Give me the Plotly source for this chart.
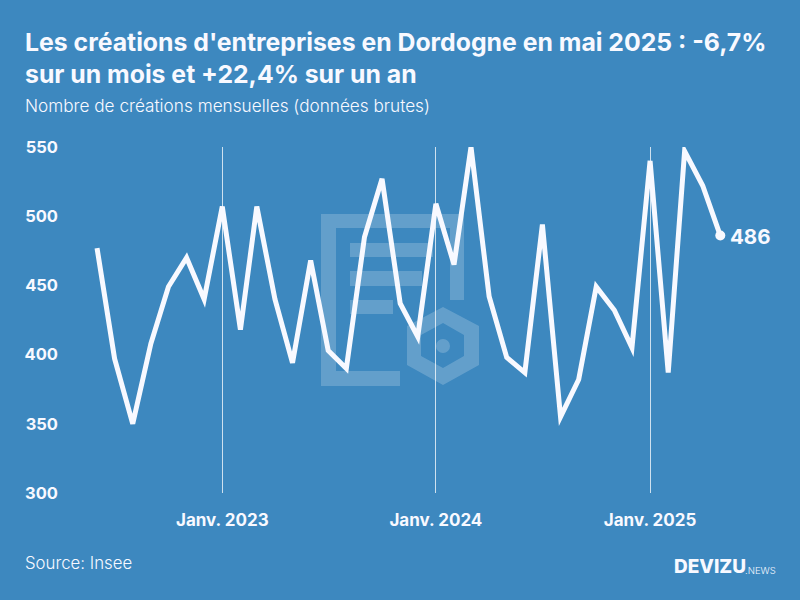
import plotly.graph_objects as go

# Data
MONTHS = ["2022-06-01", "2022-07-01", "2022-08-01", "2022-09-01", "2022-10-01", "2022-11-01",
          "2022-12-01", "2023-01-01", "2023-02-01", "2023-03-01", "2023-04-01", "2023-05-01",
          "2023-06-01", "2023-07-01", "2023-08-01", "2023-09-01", "2023-10-01", "2023-11-01",
          "2023-12-01", "2024-01-01", "2024-02-01", "2024-03-01", "2024-04-01", "2024-05-01",
          "2024-06-01", "2024-07-01", "2024-08-01", "2024-09-01", "2024-10-01", "2024-11-01",
          "2024-12-01", "2025-01-01", "2025-02-01", "2025-03-01", "2025-04-01", "2025-05-01"]
CREATIONS = [477, 397, 350, 408, 449, 470,
             440, 507, 418, 507, 440, 394,
             468, 403, 390, 485, 527, 437,
             413, 509, 465, 550, 442, 398,
             387, 494, 355, 382, 449, 432,
             405, 540, 387, 547, 522, 486]
X_TICKS = ["2023-01-01", "2024-01-01", "2025-01-01"]
X_LABELS = ["Janv. 2023", "Janv. 2024", "Janv. 2025"]
Y_TICKS = [300, 350, 400, 450, 500, 550]

BG = "#3d88bf"
WHITE = "#f8f9ff"
FONT = "Inter"
LOGO = "rgba(255,255,255,0.2)"

# Plot area in pixels
W, H = 800, 600
LEFT, RIGHT, TOP, BOTTOM = 59, 780, 147, 493


def px(x):
    return (x - LEFT) / (RIGHT - LEFT)


def py(y):
    return (BOTTOM - y) / (BOTTOM - TOP)


def logo_rect(x0, y0, x1, y1):
    return dict(type="rect", xref="paper", yref="paper", layer="below",
                x0=px(x0), x1=px(x1), y0=py(y0), y1=py(y1),
                fillcolor=LOGO, line_width=0)


def poly(points):
    return "M" + " L".join(f"{px(x):.4f},{py(y):.4f}" for x, y in points) + " Z"


def text(x, y, s, size, anchor="left", weight=400, family=FONT):
    return dict(x=px(x), y=py(y), xref="paper", yref="paper", text=s, showarrow=False,
                xanchor=anchor, yanchor="middle", align="left",
                font=dict(family=family, size=size, color=WHITE, weight=weight))


fig = go.Figure()
fig.add_trace(go.Scatter(x=MONTHS, y=CREATIONS, mode="lines",
                         line=dict(color=WHITE, width=5), hoverinfo="skip"))
fig.add_trace(go.Scatter(x=MONTHS[-1:], y=CREATIONS[-1:], mode="markers",
                         marker=dict(color=WHITE, size=10), hoverinfo="skip"))

# Watermark logo behind the chart
outer_hex = [(443, 307), (479, 326), (479, 365), (443, 385), (407, 365), (407, 326)]
inner_hex = [(443, 323), (464, 335), (464, 356), (443, 368), (421, 356), (421, 335)]
shapes = [
    logo_rect(321, 214, 336, 386),
    logo_rect(336, 371, 400, 386),
    logo_rect(336, 214, 464, 228),
    logo_rect(450, 228, 464, 300),
    logo_rect(350, 243, 433, 257),
    logo_rect(350, 271, 422, 286),
    logo_rect(350, 300, 393, 314),
    dict(type="path", xref="paper", yref="paper", layer="below", fillcolor=LOGO, line_width=0,
         path=poly(outer_hex) + " " + poly(inner_hex[::-1])),
    dict(type="circle", xref="paper", yref="paper", layer="below", fillcolor=LOGO, line_width=0,
         x0=px(436), x1=px(450), y0=py(353), y1=py(339)),
]

fig.update_layout(
    width=W, height=H, showlegend=False,
    paper_bgcolor=BG, plot_bgcolor=BG,
    margin=dict(l=LEFT, r=W - RIGHT, t=TOP, b=H - BOTTOM, autoexpand=False),
    title=dict(text="Les créations d'entreprises en Dordogne en mai 2025 : -6,7%<br>sur un mois et +22,4% sur un an",
               x=25 / W, xanchor="left", y=1 - 51 / H, yanchor="middle",
               font=dict(family=FONT, size=24.8, color=WHITE, weight=700)),
    xaxis=dict(type="date", range=["2022-03-28", "2025-08-11"],
               tickmode="array", tickvals=X_TICKS, ticktext=X_LABELS,
               showgrid=True, gridcolor="rgba(255,255,255,0.75)", gridwidth=1,
               zeroline=False, showline=False, ticks="", ticklabelstandoff=15,
               tickfont=dict(family=FONT, size=17, color=WHITE, weight=700)),
    yaxis=dict(range=[300, 550], tickmode="array", tickvals=Y_TICKS,
               showgrid=False, zeroline=False, showline=False, ticks="",
               tickfont=dict(family=FONT, size=16.5, color=WHITE, weight=700)),
    shapes=shapes,
    annotations=[
        text(23, 105, "Nombre de créations mensuelles (données brutes)", 17.2, weight=300),
        text(23, 563, "Source: Insee", 16.8, weight=300),
        text(672, 566, "DEVIZU", 19, weight=800),
        text(743, 570, ".NEWS", 9.5, weight=300),
        dict(x=MONTHS[-1], y=CREATIONS[-1], text=str(CREATIONS[-1]), showarrow=False,
             xanchor="left", yanchor="middle", xshift=8, yshift=-1,
             font=dict(family=FONT, size=20.5, color=WHITE, weight=700)),
    ],
)

# no body margin, and sharp line corners like the original
post = """document.body.style.margin='0';
document.querySelectorAll('.js-line').forEach(function(p) {
    p.style.strokeLinejoin = 'miter';
    p.style.strokeMiterlimit = '4';
});"""
fig.write_html("out.html", config={"displayModeBar": False}, post_script=post)
